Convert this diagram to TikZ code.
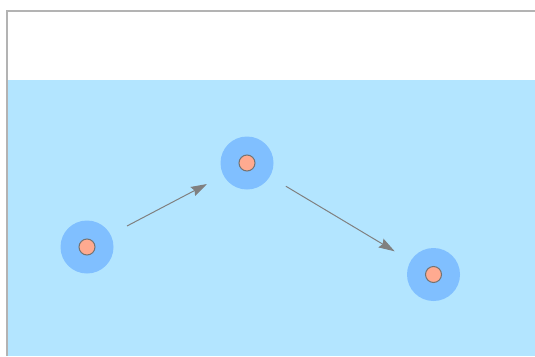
\documentclass[tikz,border=0pt]{standalone}
\usetikzlibrary{arrows.meta}
\definecolor{bgblue}{HTML}{B3E5FF}
\definecolor{halo}{HTML}{80BFFF}
\definecolor{core}{HTML}{FFAA90}
\definecolor{edge}{HTML}{808080}
\definecolor{frame}{HTML}{B3B3B3}
\begin{document}
\begin{tikzpicture}[x=1pt,y=-1pt,
  halonode/.style={circle,fill=halo,draw=none,minimum size=53pt,inner sep=0pt},
  corenode/.style={circle,fill=core,draw=edge!90!black,line width=1pt,minimum size=16pt,inner sep=0pt},
  link/.style={draw=edge,line width=1pt,-{Stealth[length=16pt,width=10pt,inset=2pt]},shorten <=18.5pt,shorten >=18.5pt}]
\useasboundingbox (0,0) rectangle (535,356);
\fill[bgblue] (8,80) rectangle (535,356);
\draw[frame,line width=2.2pt] (7,356) -- (7,11) -- (535,11);
\node[halonode] (h1) at (87,247) {};
\node[halonode] (h2) at (247,163) {};
\node[halonode] (h3) at (433.5,274.5) {};
\node[corenode] (c1) at (h1.center) {};
\node[corenode] (c2) at (h2.center) {};
\node[corenode] (c3) at (h3.center) {};
\draw[link] (h1) -- (h2);
\draw[link] (h2) -- (h3);
\end{tikzpicture}
\end{document}
